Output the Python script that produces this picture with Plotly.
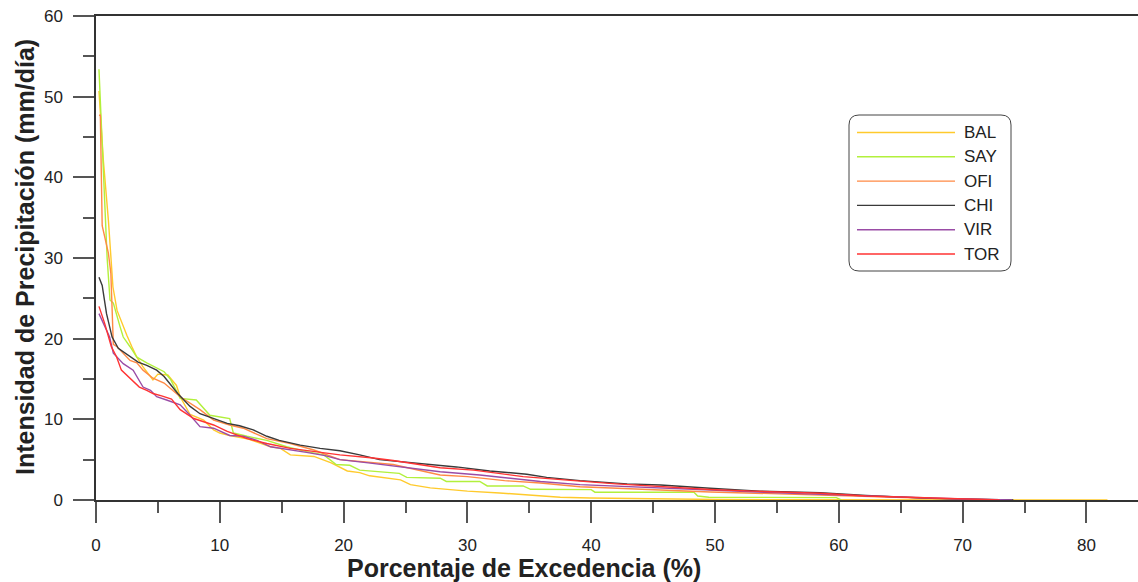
import plotly.graph_objects as go

# Curvas de duración de precipitación diaria por estación
names = ["BAL", "SAY", "OFI", "CHI", "VIR", "TOR"]
colors = ["#FFCA2C", "#B2F03C", "#FF8A45", "#3A3A3A", "#9A4CA6", "#FF3333"]

BAL_x = [0.24, 0.6, 1.0, 1.37, 1.7, 2.2, 2.5, 2.9, 3.3, 3.8, 4.6, 5.0, 5.8, 6.5, 6.8, 7.6, 8.7, 9.5, 10.0,
         10.8, 12.2, 14.1, 14.9, 15.7, 17.6, 19.0, 20.3, 21.3, 22.1, 24.6, 25.4, 27.0, 30.0, 32.6, 35.3,
         37.5, 39.9, 45.0, 50.0, 55.0, 60.0, 70.0, 81.7]
BAL_y = [50.7, 42.0, 34.7, 26.4, 23.5, 21.4, 20.4, 19.0, 17.7, 16.5, 14.9, 15.6, 15.5, 14.2, 12.8, 10.6, 9.9, 8.7, 8.3,
         8.0, 7.6, 6.6, 6.4, 5.6, 5.4, 4.6, 3.6, 3.4, 3.0, 2.5, 1.9, 1.5, 1.1, 0.87, 0.55,
         0.35, 0.25, 0.12, 0.06, 0.03, 0.02, 0.01, 0.0]

SAY_x = [0.24, 0.5, 0.73, 0.9, 1.13, 1.4, 1.94, 2.2, 2.75, 3.3, 4.1, 4.9, 5.5, 6.0, 6.8, 8.1, 9.2, 10.8, 11.1,
         12.2, 13.8, 15.4, 17.0, 18.4, 19.4, 20.5, 21.3, 24.5, 25.1, 27.8, 28.3, 31.0, 31.6, 34.5, 35.1,
         40.0, 40.3, 48.3, 48.6, 49.5, 59.8, 60.2]
SAY_y = [53.4, 44.0, 34.7, 30.0, 24.8, 24.4, 21.5, 20.2, 19.0, 17.7, 17.0, 16.4, 15.9, 15.0, 12.6, 12.4, 10.5, 10.1, 8.3,
         7.9, 7.4, 6.6, 6.0, 5.6, 4.4, 4.3, 3.7, 3.3, 2.8, 2.7, 2.3, 2.3, 1.74, 1.74, 1.33,
         1.28, 0.97, 0.97, 0.5, 0.35, 0.3, 0.0]

OFI_x = [0.24, 0.35, 0.5, 0.73, 1.0, 1.2, 1.3, 1.4, 1.7, 2.2, 2.75, 3.3, 3.8, 4.6, 5.5, 6.8, 8.4, 9.5, 10.8,
         11.9, 12.8, 13.8, 15.7, 17.6, 19.7, 21.3, 24.0, 27.8, 30.0, 33.0, 35.9, 39.1, 42.0, 45.6, 49.6,
         54.0, 58.5, 62.0, 66.0, 70.0, 74.0]
OFI_y = [47.7, 47.7, 34.0, 32.6, 30.6, 28.1, 22.0, 19.3, 19.0, 18.2, 17.3, 17.0, 16.1, 15.1, 14.5, 12.8, 11.2, 9.9, 9.3,
         8.9, 8.3, 7.6, 7.0, 6.2, 5.0, 4.8, 4.4, 3.1, 2.9, 2.4, 2.1, 1.65, 1.5, 1.24, 1.0,
         0.8, 0.6, 0.45, 0.25, 0.1, 0.0]

CHI_x = [0.24, 0.5, 0.85, 1.3, 1.8, 2.2, 2.8, 3.4, 4.1, 4.9, 5.5, 6.0, 6.6, 7.1, 7.6, 8.4, 9.5, 10.6, 11.6,
         12.7, 13.8, 14.8, 16.5, 18.1, 19.7, 21.3, 22.9, 25.9, 27.8, 29.1, 31.8, 34.8, 36.4, 39.1, 42.9,
         45.6, 49.6, 53.6, 58.5, 62.2, 67.5, 74.1]
CHI_y = [27.6, 26.6, 23.1, 20.2, 18.8, 18.4, 17.8, 17.1, 16.7, 16.1, 15.3, 14.3, 13.2, 12.4, 11.6, 10.7, 10.1, 9.5, 9.2,
         8.7, 7.9, 7.4, 6.8, 6.4, 6.1, 5.6, 5.0, 4.6, 4.3, 4.1, 3.6, 3.2, 2.8, 2.4, 2.0,
         1.86, 1.45, 1.1, 0.9, 0.55, 0.2, 0.0]

VIR_x = [0.24, 0.6, 1.1, 1.4, 1.8, 2.2, 3.0, 3.8, 4.4, 4.9, 5.7, 6.5, 6.8, 7.6, 8.4, 9.5, 10.8, 11.9, 13.0,
         14.1, 15.5, 17.0, 18.5, 19.7, 22.0, 25.0, 27.8, 31.0, 35.9, 39.1, 42.0, 45.6, 49.6, 54.0, 58.5,
         62.0, 66.0, 70.0, 74.0]
VIR_y = [23.1, 21.9, 20.2, 18.2, 17.6, 16.9, 16.1, 14.0, 13.6, 12.8, 12.4, 11.9, 11.8, 10.5, 9.1, 8.9, 8.0, 7.9, 7.4,
         6.6, 6.3, 5.9, 5.5, 5.0, 4.6, 4.0, 3.5, 3.1, 2.3, 1.9, 1.7, 1.45, 1.2, 0.95, 0.7,
         0.5, 0.3, 0.12, 0.0]

TOR_x = [0.24, 0.7, 1.24, 1.65, 2.05, 2.75, 3.5, 4.1, 4.6, 5.3, 6.1, 6.8, 7.9, 9.5, 10.6, 12.2, 13.8, 15.7, 17.6,
         19.7, 22.4, 24.0, 27.8, 30.5, 34.5, 36.0, 38.6, 42.0, 45.6, 49.6, 53.0, 58.5, 62.2, 66.0, 70.3, 73.0]
TOR_y = [24.0, 21.9, 19.0, 17.8, 16.1, 15.1, 14.0, 13.6, 13.2, 12.9, 12.5, 11.2, 10.1, 9.3, 8.5, 7.6, 7.0, 6.4, 6.0,
         5.6, 5.2, 4.9, 4.0, 3.7, 2.9, 2.7, 2.4, 2.0, 1.65, 1.3, 1.1, 0.83, 0.5, 0.3, 0.1, 0.0]

series_x = [BAL_x, SAY_x, OFI_x, CHI_x, VIR_x, TOR_x]
series_y = [BAL_y, SAY_y, OFI_y, CHI_y, VIR_y, TOR_y]

FONT = "Liberation Sans, Arial, sans-serif"
W, H = 1138, 582
L, R, T, B = 96, 0, 16, 82
PW, PH = W - L - R, H - T - B


def px2x(px):
    return (px - L) / PW


def py2y(py):
    return (H - B - py) / PH


fig = go.Figure()
for name, color, xs, ys in zip(names, colors, series_x, series_y):
    fig.add_trace(go.Scatter(x=xs, y=ys, mode="lines", name=name,
                             line=dict(color=color, width=1.4), showlegend=False))

# Legend box with rounded corners
x0, x1, yt, yb = px2x(849), px2x(1011), py2y(115), py2y(271)
rx, ry = 10 / PW, 10 / PH
path = (f"M {x0+rx},{yt} L {x1-rx},{yt} Q {x1},{yt} {x1},{yt-ry} L {x1},{yb+ry} "
        f"Q {x1},{yb} {x1-rx},{yb} L {x0+rx},{yb} Q {x0},{yb} {x0},{yb+ry} "
        f"L {x0},{yt-ry} Q {x0},{yt} {x0+rx},{yt} Z")
shapes = [dict(type="path", path=path, xref="paper", yref="paper",
               line=dict(color="#444444", width=1), fillcolor="rgba(255,255,255,1)", layer="above")]
annotations = []
for i, (name, color) in enumerate(zip(names, colors)):
    yy = py2y(132.5 + i * 24.3)
    shapes.append(dict(type="line", xref="paper", yref="paper", x0=px2x(857), x1=px2x(955),
                       y0=yy, y1=yy, line=dict(color=color, width=1.4), layer="above"))
    annotations.append(dict(text=name, xref="paper", yref="paper", x=px2x(962), y=yy,
                            xanchor="left", yanchor="middle", showarrow=False,
                            font=dict(family=FONT, size=17, color="#222222")))

annotations.append(dict(text="<b>Intensidad de Precipitación (mm/día)</b>", xref="paper", yref="paper",
                        x=px2x(25), y=py2y(257), textangle=-90, showarrow=False,
                        xanchor="center", yanchor="middle",
                        font=dict(family=FONT, size=25, color="#222222")))
annotations.append(dict(text="<b>Porcentaje de Excedencia (%)</b>", xref="paper", yref="paper",
                        x=px2x(524), y=py2y(568), showarrow=False,
                        xanchor="center", yanchor="middle",
                        font=dict(family=FONT, size=25, color="#222222")))

axis_common = dict(showgrid=False, zeroline=False, showline=True, linecolor="#333333", linewidth=1.5,
                   ticks="outside", ticklen=21, tickwidth=1.5, tickcolor="#555555",
                   tickfont=dict(family=FONT, size=17, color="#222222"), layer="below traces")

fig.update_xaxes(range=[0, PW / 12.38], dtick=10, tick0=0, mirror=True, ticklabelstandoff=8,
                 minor=dict(dtick=5, ticklen=11, tickwidth=1.5, tickcolor="#555555", ticks="outside"),
                 **axis_common)
fig.update_yaxes(range=[0, 60], dtick=10, tick0=0, ticklabelstandoff=7,
                 minor=dict(dtick=5, ticklen=11, tickwidth=1.5, tickcolor="#555555", ticks="outside"),
                 **axis_common)

fig.update_layout(width=W, height=H, margin=dict(l=L, r=R, t=T, b=B, pad=0),
                  paper_bgcolor="white", plot_bgcolor="white",
                  shapes=shapes, annotations=annotations, showlegend=False)

fig.write_html("out.html")
